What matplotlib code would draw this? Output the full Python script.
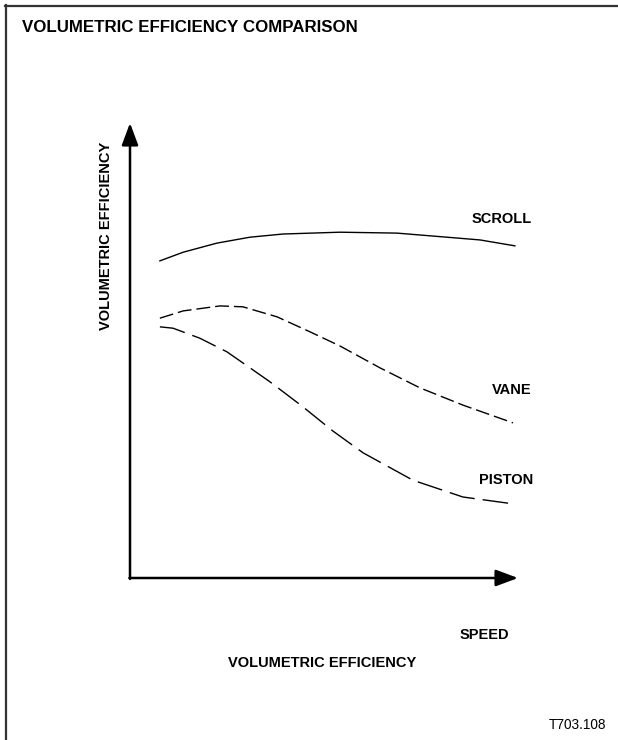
import matplotlib.pyplot as plt
from matplotlib.lines import Line2D

plt.rcParams['font.family'] = ['Liberation Sans', 'DejaVu Sans']
plt.rcParams['lines.scale_dashes'] = False

# speed (0-100) vs volumetric efficiency (0-100), arbitrary units
scroll_speed = [7.7, 13.7, 22.4, 30.9, 39.4, 54.1, 68.8, 81.7, 90.2, 99.2]
scroll_eff = [69.7, 71.6, 73.6, 74.9, 75.6, 76.0, 75.8, 74.9, 74.3, 73.0]

vane_speed = [7.7, 13.7, 23.2, 29.1, 37.9, 46.4, 54.1, 64.4, 74.7, 85.8, 98.7]
vane_eff = [57.1, 58.7, 59.8, 59.6, 57.4, 54.1, 51.0, 46.2, 41.8, 38.0, 34.1]

piston_speed = [7.7, 11.1, 18.0, 25.0, 30.9, 36.1, 44.3, 52.3, 60.1, 72.9, 85.8, 98.7]
piston_eff = [55.2, 54.9, 52.7, 49.7, 46.2, 43.1, 37.8, 32.3, 27.5, 21.5, 17.8, 16.3]

W, H = 618, 740
fig = plt.figure(figsize=(W / 100, H / 100), dpi=100)

def fx(px):
    return px / W

def fy(py):
    return 1 - py / H

# outer frame (top and left edges)
fig.add_artist(Line2D([fx(5), fx(618)], [fy(6), fy(6)], color='#333333', lw=1.6))
fig.add_artist(Line2D([fx(6), fx(6)], [fy(5), fy(740)], color='#333333', lw=1.6))

ax = fig.add_axes([fx(130), fy(578), 388 / W, 455 / H])
ax.set_xlim(0, 100)
ax.set_ylim(0, 100)
ax.axis('off')

ax.plot(scroll_speed, scroll_eff, color='black', lw=1.0)
ax.plot(vane_speed, vane_eff, color='black', lw=1.0, dashes=(10, 3.6))
ax.plot(piston_speed, piston_eff, color='black', lw=1.0, dashes=(18.5, 5.8))

arrow = dict(arrowstyle='-|>,head_length=0.75,head_width=0.28', lw=1.8,
             color='black', shrinkA=0, shrinkB=0, mutation_scale=18)
ax.annotate('', xy=(0, 100), xytext=(0, -0.2), arrowprops=arrow, annotation_clip=False)
ax.annotate('', xy=(100, 0), xytext=(-0.15, 0), arrowprops=arrow, annotation_clip=False)

bold = dict(fontweight='bold', fontsize=10.5, va='center')
fig.text(fx(532), fy(219), 'SCROLL', ha='right', **bold)
fig.text(fx(532), fy(390), 'VANE', ha='right', **bold)
fig.text(fx(533), fy(480), 'PISTON', ha='right', **bold)
fig.text(fx(509), fy(635), 'SPEED', ha='right', **bold)
fig.text(fx(322), fy(663), 'VOLUMETRIC EFFICIENCY', ha='center', **bold)
fig.text(fx(106), fy(236), 'VOLUMETRIC EFFICIENCY', ha='center', rotation=90, **bold)

fig.text(fx(22), fy(28), 'VOLUMETRIC EFFICIENCY COMPARISON', ha='left', va='center',
         fontweight='bold', fontsize=12.2)
fig.text(fx(606), fy(725), 'T703.108', ha='right', va='center', fontsize=9.8)

fig.savefig('out.png', dpi=100)
